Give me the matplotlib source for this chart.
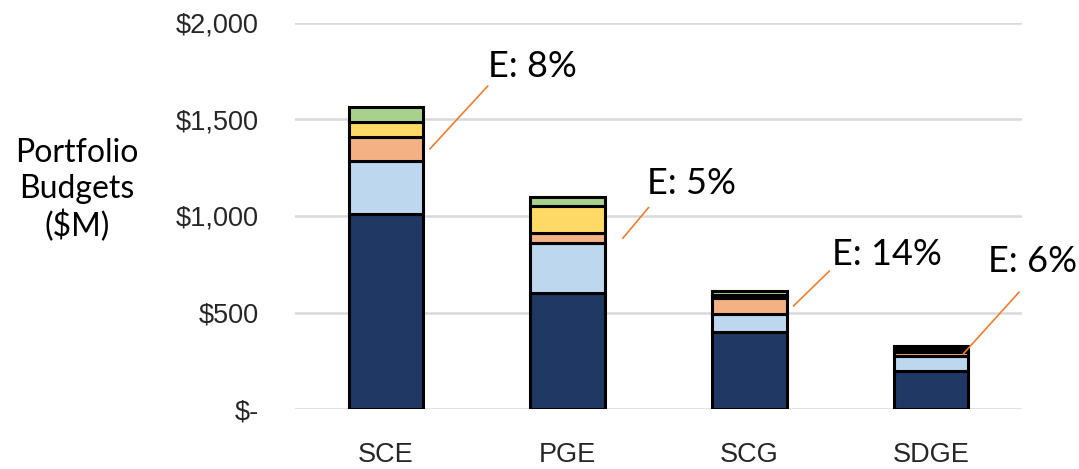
import matplotlib.pyplot as plt
import numpy as np

# Presupuestos por empresa ($M), por segmento
empresas = ['SCE', 'PGE', 'SCG', 'SDGE']
azul_oscuro = [1010, 600, 399, 199]
azul_claro = [275, 258, 93, 76]
naranja = [125, 52, 83, 20]
amarillo = [75, 142, 18, 15]
verde = [80, 44, 18, 15]
etiquetas_e = ['E: 8%', 'E: 5%', 'E: 14%', 'E: 6%']

yticks = [0, 500, 1000, 1500, 2000]
ytick_labels = ['$-', '$500', '$1,000', '$1,500', '$2,000']

series = [azul_oscuro, azul_claro, naranja, amarillo, verde]
colores = ['#203864', '#BDD7EE', '#F4B183', '#FFD966', '#A9D18E']

fig = plt.figure(figsize=(10.79, 4.69), dpi=100)
ax = fig.add_axes([0.2734, 0.1279, 0.6738, 0.8231])

x = np.arange(len(empresas))
base = np.zeros(len(empresas))
for vals, col in zip(series, colores):
    ax.bar(x, vals, width=0.41, bottom=base, color=col, edgecolor='black',
           linewidth=2.2, zorder=3)
    base += np.array(vals)

ax.set_xlim(-0.5, 3.5)
ax.set_ylim(0, 2000)
ax.set_yticks(yticks)
ax.set_yticklabels(ytick_labels)
ax.set_xticks(x)
ax.set_xticklabels(empresas)
ax.tick_params(length=0)
ax.tick_params(axis='y', pad=26, labelsize=19.5, labelcolor='#262626')
ax.tick_params(axis='x', pad=24, labelsize=19.5, labelcolor='#262626')
for lbl in ax.get_xticklabels() + ax.get_yticklabels():
    lbl.set_family('Liberation Sans')
ax.grid(axis='y', color='#D9D9D9', linewidth=1.8, zorder=0)
for s in ax.spines.values():
    s.set_visible(False)

# Lineas naranjas hacia el segmento naranja y texto E
punta_x = [0.242, 0.303, 0.242, 0.176]
linea_off = [(58, 63), (26, 31), (36, 35), (56, 62)]
texto_off = [(58, 72), (24, 44), (39, 41), (25, 82)]
medio_naranja = np.array(azul_oscuro) + np.array(azul_claro) + np.array(naranja) / 2
for i in range(len(empresas)):
    xy = (x[i] + punta_x[i], medio_naranja[i])
    ax.annotate('', xy=xy, xytext=linea_off[i], textcoords='offset pixels',
                arrowprops=dict(arrowstyle='-', color='#ED7D31', lw=1.2,
                                shrinkA=0, shrinkB=0))
    ax.annotate(etiquetas_e[i], xy=xy, xytext=texto_off[i], textcoords='offset pixels',
                ha='left', va='baseline', fontsize=26, family='Lato',
                color='black', annotation_clip=False)

fig.text(77 / 1079, 1 - 190 / 469, 'Portfolio\nBudgets\n($M)', ha='center',
         va='center', fontsize=23, family='Lato', linespacing=1.22)

fig.savefig('out.png', dpi=100)
